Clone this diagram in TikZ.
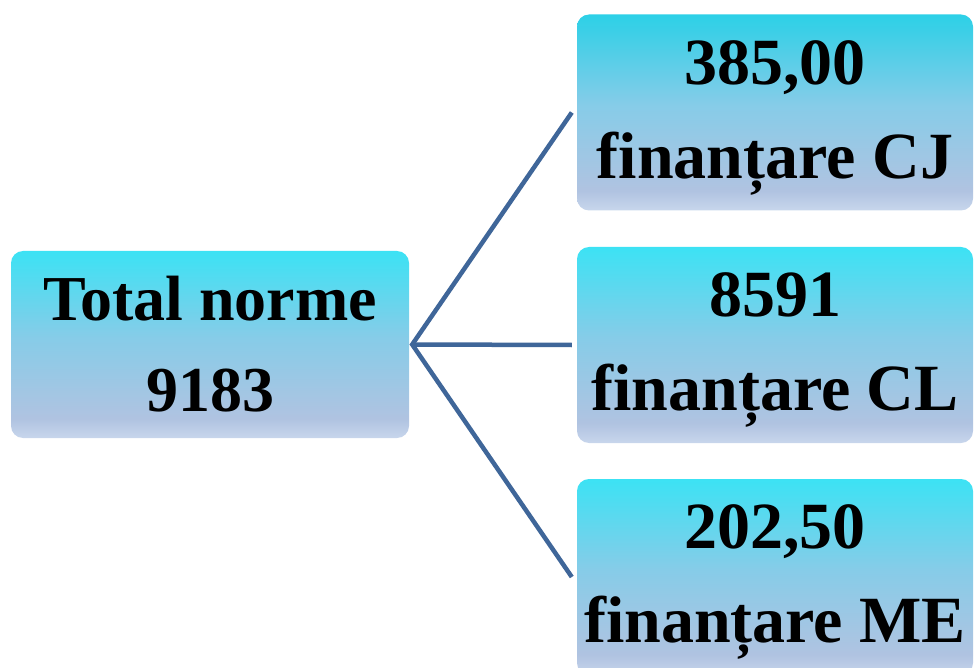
\documentclass[tikz,border=0pt]{standalone}
\usepackage{fontspec}
\setmainfont{Liberation Serif}

\definecolor{shtop}{HTML}{3CE2F4}
\definecolor{shtopdark}{HTML}{2CD0E7}
\definecolor{shmid}{HTML}{86CCE8}
\definecolor{shlow}{HTML}{B0C3E1}
\definecolor{shbot}{HTML}{C8D6EC}
\definecolor{linkblue}{HTML}{3F6699}

\pgfdeclareverticalshading{boxshade}{100bp}{color(0bp)=(shbot); color(25bp)=(shbot); color(30bp)=(shlow); color(52bp)=(shmid); color(75bp)=(shtop); color(100bp)=(shtop)}
\pgfdeclareverticalshading{boxshadedark}{100bp}{color(0bp)=(shbot); color(25bp)=(shbot); color(30bp)=(shlow); color(52bp)=(shmid); color(75bp)=(shtopdark); color(100bp)=(shtopdark)}

\newcommand*{\lift}{\rule{0pt}{54pt}}

\begin{document}
\begin{tikzpicture}
[
	normbox/.style={rounded corners=12pt,shading=boxshade,inner sep=0pt,align=center},
	leftbox/.style={normbox,minimum width=398pt,minimum height=187pt,
		font=\bfseries\fontsize{64}{91}\selectfont},
	rightbox/.style={normbox,minimum width=396pt,minimum height=196pt,
		font=\bfseries\fontsize{66}{94}\selectfont},
	link/.style={draw=linkblue,line width=4.5pt}
]

	\useasboundingbox (0,0) rectangle (974pt,-668pt);

	% boxes
	\node[leftbox] at (210pt,-344.5pt) (total) {Total norme\\9183};
	\node[rightbox,shading=boxshadedark] at (775pt,-112.5pt) (cj) {\lift385,00\\finanțare CJ};
	\node[rightbox] at (775pt,-345pt) (cl) {\lift8591\\finanțare CL};
	\node[rightbox] at (775pt,-577pt) (me) {\lift202,50\\finanțare ME};

	% connectors
	\coordinate (fork) at ([xshift=3pt]total.east);
	\draw[link] ([xshift=-5pt]cj.west) -- (fork) -- ([xshift=-5pt]me.west);
	\draw[link] (fork) -- ([xshift=-5pt]cl.west);

\end{tikzpicture}
\end{document}
